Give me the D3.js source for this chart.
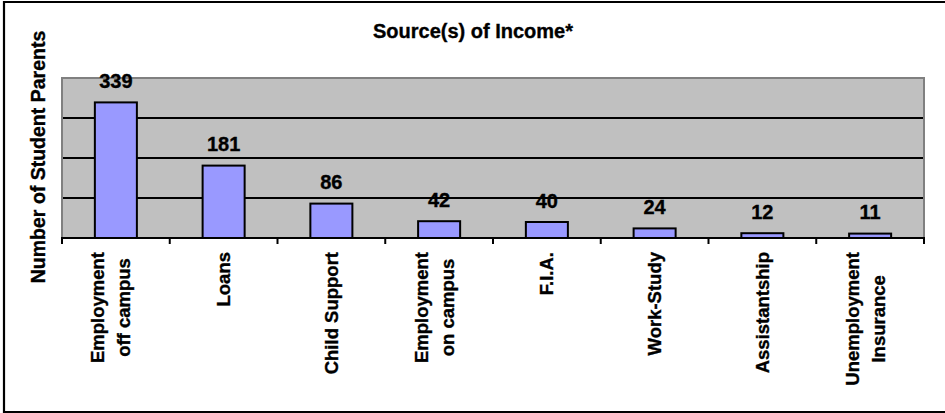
<!DOCTYPE html>
<html>
<head>
<meta charset="utf-8">
<script src="https://cdn.jsdelivr.net/npm/d3@7"></script>
<style>
  html, body { margin: 0; padding: 0; background: #fff; }
  svg { display: block; font-family: "Liberation Sans", Arial, sans-serif; }
  text { stroke: #000; stroke-width: 0.35px; }
</style>
</head>
<body>
<svg id="chart" width="945" height="413"></svg>
<script>
// Income sources reported by student parents
const categories = [
  ["Employment", "off campus"],
  ["Loans"],
  ["Child Support"],
  ["Employment", "on campus"],
  ["F.I.A."],
  ["Work-Study"],
  ["Assistantship"],
  ["Unemployment", "Insurance"]
];
const counts = [339, 181, 86, 42, 40, 24, 12, 11];
const gridValues = [100, 200, 300];
const yMax = 400;

const titleText = "Source(s) of Income*";
const yTitleText = "Number of Student Parents";

const W = 945, H = 413;
const plot = { left: 62, right: 924, top: 78, bottom: 238 };

const svg = d3.select("#chart");

// outer frame (open on the right edge)
svg.append("path")
  .attr("d", `M${W + 2},2 H4 V412 H${W + 2}`)
  .attr("fill", "none")
  .attr("stroke", "#000")
  .attr("stroke-width", 2.2);

const keys = categories.map((c, i) => i);
const x = d3.scaleBand().domain(keys).range([plot.left, plot.right]).padding(0);
const y = d3.scaleLinear().domain([0, yMax]).range([plot.bottom, plot.top]);

// plot background
svg.append("rect")
  .attr("x", plot.left).attr("y", plot.top)
  .attr("width", plot.right - plot.left).attr("height", plot.bottom - plot.top)
  .attr("fill", "#c0c0c0");

// horizontal gridlines
svg.append("g")
  .selectAll("line")
  .data(gridValues)
  .join("line")
  .attr("x1", plot.left).attr("x2", plot.right)
  .attr("y1", d => y(d)).attr("y2", d => y(d))
  .attr("stroke", "#000")
  .attr("stroke-width", 1.8);

// plot border: gray on top, left and right
svg.append("path")
  .attr("d", `M${plot.left},${plot.bottom} V${plot.top} H${plot.right} V${plot.bottom}`)
  .attr("fill", "none")
  .attr("stroke", "#808080")
  .attr("stroke-width", 2);

// bars
const barFrac = 0.39;
const barW = x.bandwidth() * barFrac;
svg.append("g")
  .selectAll("rect")
  .data(counts)
  .join("rect")
  .attr("x", (d, i) => x(i) + (x.bandwidth() - barW) / 2)
  .attr("y", d => y(d))
  .attr("width", barW)
  .attr("height", d => y(0) - y(d))
  .attr("fill", "#9999ff")
  .attr("stroke", "#000")
  .attr("stroke-width", 2);

// x axis: baseline with ticks between categories
const xAxis = svg.append("g");
xAxis.append("line")
  .attr("x1", plot.left - 1).attr("x2", plot.right + 1)
  .attr("y1", plot.bottom).attr("y2", plot.bottom)
  .attr("stroke", "#000").attr("stroke-width", 2.2);
const tickPos = keys.map(k => x(k)).concat([x(keys[keys.length - 1]) + x.bandwidth()]);
xAxis.selectAll("line.tick")
  .data(tickPos)
  .join("line")
  .attr("class", "tick")
  .attr("x1", d => d).attr("x2", d => d)
  .attr("y1", plot.bottom).attr("y2", plot.bottom + 6)
  .attr("stroke", "#000").attr("stroke-width", 2);

// value labels above bars
svg.append("g")
  .selectAll("text")
  .data(counts)
  .join("text")
  .attr("x", (d, i) => x(i) + x.bandwidth() / 2)
  .attr("y", d => y(d) - 14.5)
  .attr("text-anchor", "middle")
  .attr("font-size", 20)
  .attr("font-weight", "bold")
  .attr("fill", "#000")
  .text(d => d);

// rotated category labels, lines centred on each other
const lineGap = 26;
const labelTop = 252;
const catG = svg.append("g");
categories.forEach((lines, i) => {
  const cx = x(i) + x.bandwidth() / 2;
  const n = lines.length;
  const texts = lines.map((ln, j) => {
    const bx = cx + 6.4 - (n - 1) * 5 + (j - (n - 1) / 2) * lineGap;
    return catG.append("text")
      .attr("font-size", 18.5)
      .attr("font-weight", "bold")
      .attr("fill", "#000")
      .attr("text-anchor", "middle")
      .attr("data-bx", bx)
      .text(ln);
  });
  const maxLen = d3.max(texts, t => t.node().getComputedTextLength());
  const cy = labelTop + maxLen / 2;
  texts.forEach(t => {
    const bx = +t.attr("data-bx");
    t.attr("transform", `translate(${bx},${cy}) rotate(-90)`);
  });
});

// chart title
svg.append("text")
  .attr("x", 473)
  .attr("y", 38)
  .attr("text-anchor", "middle")
  .attr("font-size", 20)
  .attr("font-weight", "bold")
  .attr("fill", "#000")
  .text(titleText);

// y axis title
svg.append("text")
  .attr("transform", `translate(45,157) rotate(-90)`)
  .attr("text-anchor", "middle")
  .attr("font-size", 19.5)
  .attr("font-weight", "bold")
  .attr("fill", "#000")
  .text(yTitleText);
</script>
</body>
</html>
